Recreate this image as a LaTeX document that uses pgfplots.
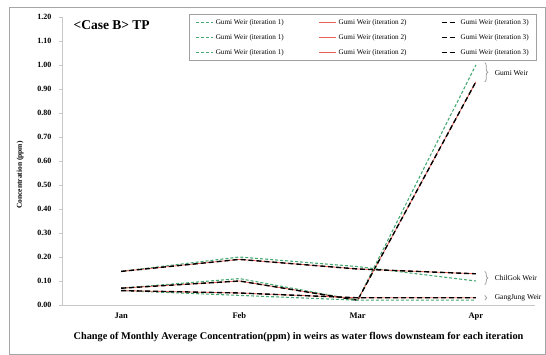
\documentclass[border=0pt]{standalone}
\usepackage{fontspec}
\setmainfont{Liberation Serif}
\usepackage{pgfplots}
\pgfplotsset{compat=1.18}
\usetikzlibrary{decorations.pathreplacing}
\definecolor{itgreen}{RGB}{72,170,115}
\definecolor{itred}{RGB}{235,95,85}
\definecolor{axgray}{RGB}{200,200,200}
\definecolor{lgray}{RGB}{160,160,160}
\makeatletter
\newcommand{\rawRG}[3]{\pgfsysprotocol@literal{#1 #2 #3 RG}}
\makeatother
\pgfplotsset{
  itA/.style={draw=itgreen, line width=1.1pt, dash pattern=on 3pt off 2pt},
  itB/.style={draw=itred, line width=0.8pt, solid},
  itC/.style={draw=black, line width=1.4pt, dash pattern=on 5pt off 3pt},
  legA/.style={legend image code/.code={\rawRG{0.282}{0.667}{0.451}\draw[line width=1.1pt, dash pattern=on 3pt off 2pt] (0cm,0cm) -- (0.6cm,0cm);}},
  legB/.style={legend image code/.code={\rawRG{0.922}{0.373}{0.333}\draw[line width=0.8pt] (0cm,0cm) -- (0.6cm,0cm);}},
  legC/.style={legend image code/.code={\rawRG{0}{0}{0}\draw[line width=1.4pt, dash pattern=on 5pt off 3pt] (0.05cm,0cm) -- (0.6cm,0cm);}},
}
\begin{document}
\begin{tikzpicture}
\path[use as bounding box] (-62pt,-50pt) rectangle (484pt,305pt);
\begin{axis}[
  scale only axis, width=473pt, height=288pt,
  xmin=-0.5, xmax=3.5, ymin=0, ymax=1.2,
  axis x line*=bottom, axis y line*=left,
  axis line style={axgray, line width=0.6pt, -},
  xtick={0,1,2,3}, xticklabels={Jan,Feb,Mar,Apr},
  x tick style={draw=none},
  extra x ticks={0.5,1.5,2.5}, extra x tick labels={},
  extra x tick style={tick align=inside, major tick length=3pt, tick style={axgray, draw=axgray}},
  xticklabel style={font=\bfseries\fontsize{8.5}{10}\selectfont, yshift=-1pt},
  ytick={0,0.1,...,1.21},
  y tick style={axgray},
  tick align=outside, major tick length=3pt,
  yticklabel style={font=\bfseries\fontsize{8}{9}\selectfont, xshift=-4pt},
  /pgf/number format/.cd, fixed, fixed zerofill, precision=2, assume math mode=true,
  /pgfplots/.cd,
  clip=false,
  legend columns=3,
  legend cell align=left,
  legend style={at={(1.004,1.0104)}, anchor=north east, draw=lgray,
    font=\fontsize{7.2}{8}\selectfont, inner xsep=6pt, inner ysep=3pt, row sep=4.5pt,
    /tikz/every even column/.append style={column sep=33pt}},
]
\addlegendimage{legA}\addlegendentry{Gumi Weir (iteration 1)}
\addlegendimage{legB}\addlegendentry{Gumi Weir (iteration 2)}
\addlegendimage{legC}\addlegendentry{Gumi Weir (iteration 3)}
\addlegendimage{legA}\addlegendentry{Gumi Weir (iteration 1)}
\addlegendimage{legB}\addlegendentry{Gumi Weir (iteration 2)}
\addlegendimage{legC}\addlegendentry{Gumi Weir (iteration 3)}
\addlegendimage{legA}\addlegendentry{Gumi Weir (iteration 1)}
\addlegendimage{legB}\addlegendentry{Gumi Weir (iteration 2)}
\addlegendimage{legC}\addlegendentry{Gumi Weir (iteration 3)}
% Gumi Weir
\addplot[itA, forget plot] coordinates {(0,0.07) (1,0.11) (2,0.02) (3,1.00)};
\addplot[itB, forget plot] coordinates {(0,0.07) (1,0.10) (2,0.02) (3,0.93)};
\addplot[itC, forget plot] coordinates {(0,0.07) (1,0.10) (2,0.02) (3,0.93)};
% ChilGok Weir
\addplot[itA, forget plot] coordinates {(0,0.14) (1,0.20) (2,0.16) (3,0.10)};
\addplot[itB, forget plot] coordinates {(0,0.14) (1,0.19) (2,0.15) (3,0.13)};
\addplot[itC, forget plot] coordinates {(0,0.14) (1,0.19) (2,0.15) (3,0.13)};
% GangJung Weir
\addplot[itA, forget plot] coordinates {(0,0.06) (1,0.04) (2,0.02) (3,0.02)};
\addplot[itB, forget plot] coordinates {(0,0.06) (1,0.05) (2,0.03) (3,0.03)};
\addplot[itC, forget plot] coordinates {(0,0.06) (1,0.05) (2,0.03) (3,0.03)};
% annotations
\draw[lgray, line width=0.8pt, decorate, decoration={brace, amplitude=3pt}] (axis cs:3.075,1.01) -- (axis cs:3.075,0.93);
\node[anchor=west, font=\fontsize{7.5}{9}\selectfont] at (axis cs:3.13,0.967) {Gumi Weir};
\draw[lgray, line width=0.8pt, decorate, decoration={brace, amplitude=3pt}] (axis cs:3.075,0.14) -- (axis cs:3.075,0.085);
\node[anchor=west, font=\fontsize{7.5}{9}\selectfont] at (axis cs:3.13,0.1125) {ChilGok Weir};
\draw[lgray, line width=0.8pt, decorate, decoration={brace, amplitude=2pt}] (axis cs:3.075,0.04) -- (axis cs:3.075,0.02);
\node[anchor=west, font=\fontsize{7.5}{9}\selectfont] at (axis cs:3.13,0.031) {GangJung Weir};
\node[anchor=west, font=\bfseries\fontsize{13.5}{15}\selectfont] at (axis description cs:0.017,0.972) {<Case B> TP};
\node[rotate=90, font=\bfseries\fontsize{7.5}{9}\selectfont] at (axis description cs:-0.0888,0.451) {Concentration (ppm)};
\node[font=\bfseries\fontsize{10.3}{12}\selectfont] at (axis description cs:0.5,-0.111) {Change of Monthly Average Concentration(ppm) in weirs as water flows downsteam for each iteration};
\end{axis}
\draw[gray!70, line width=0.8pt] (-53pt,-49.6pt) rectangle (483pt,298pt);
\end{tikzpicture}
\end{document}
